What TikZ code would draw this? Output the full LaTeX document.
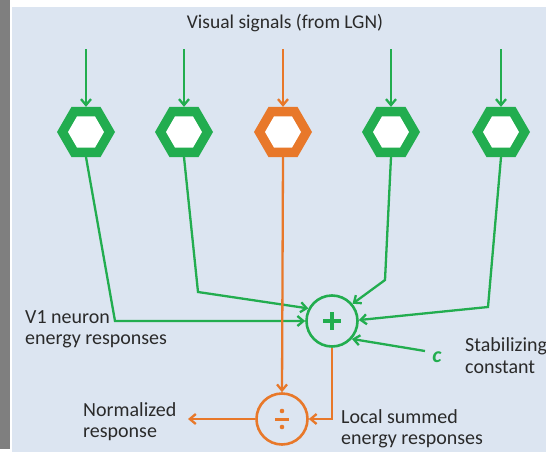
\documentclass[tikz,border=0pt]{standalone}
\usepackage{fontspec}
\setmainfont{Carlito}
\usetikzlibrary{shapes.geometric,arrows.meta}
\definecolor{bgblue}{HTML}{DCE5F1}
\definecolor{stripgray}{HTML}{7F7F7F}
\definecolor{lgreen}{HTML}{22AD4F}
\definecolor{lorange}{HTML}{E8782A}
\definecolor{txt}{HTML}{2A2A2A}
\begin{document}
\begin{tikzpicture}[x=1pt,y=-1pt,
  hexo/.style={regular polygon,regular polygon sides=6,minimum size=58pt,inner sep=0pt,outer sep=0pt},
  hexi/.style={regular polygon,regular polygon sides=6,minimum size=36pt,inner sep=0pt,outer sep=0pt,fill=white},
  opcirc/.style={circle,minimum size=51pt,inner sep=0pt,line width=2.6pt},
  conn/.style={line width=2.3pt,-{Straight Barb[length=6pt,width=10pt]}},
  lbl/.style={text=txt,font=\fontsize{20}{22}\selectfont,inner sep=0pt,anchor=base west},
  ttl/.style={text=txt,font=\fontsize{19.5}{22}\selectfont,inner sep=0pt,anchor=base},
  cst/.style={text=lgreen,font=\fontsize{22}{22}\selectfont\bfseries\itshape,inner sep=0pt},
]
\useasboundingbox (0,0) rectangle (546,455);
\clip (0,0) rectangle (546,455);
% background
\fill[white] (0,0) rectangle (546,455);
\fill[stripgray] (0,0) rectangle (10,449);
\fill[bgblue] (12,7) rectangle (546,452);

% title
\node[ttl] (title) at (285,28) {Visual signals (from LGN)};

% hexagons
\node[hexo,fill=lgreen] (h1) at (86,132) {};
\node[hexi] (h1i) at (86,132) {};
\node[hexo,fill=lgreen] (h2) at (184,132) {};
\node[hexi] (h2i) at (184,132) {};
\node[hexo,fill=lorange] (h3) at (283,132) {};
\node[hexi] (h3i) at (283,132) {};
\node[hexo,fill=lgreen] (h4) at (391,132) {};
\node[hexi] (h4i) at (391,132) {};
\node[hexo,fill=lgreen] (h5) at (501,132) {};
\node[hexi] (h5i) at (501,132) {};

% input arrows
\coordinate (s1) at (86,49);
\coordinate (s2) at (184,49);
\coordinate (s3) at (283,49);
\coordinate (s4) at (391,49);
\coordinate (s5) at (501,49);
\draw[conn,lgreen] (s1) -- (h1.north);
\draw[conn,lgreen] (s2) -- (h2.north);
\draw[conn,lorange] (s3) -- (h3.north);
\draw[conn,lgreen] (s4) -- (h4.north);
\draw[conn,lgreen] (s5) -- (h5.north);

% operator circles
\node[opcirc,draw=lgreen] (plus) at (332,321) {};
\draw[lgreen,line width=4.2pt] (plus.center) ++(-9,0) -- ++(18,0);
\draw[lgreen,line width=4.2pt] (plus.center) ++(0,-9) -- ++(0,18);

\node[opcirc,draw=lorange] (div) at (282,419) {};
\draw[lorange,line width=3pt] (div.center) ++(-7,0) -- ++(14,0);
\fill[lorange] (div.center) ++(0,-8) circle (2.3);
\fill[lorange] (div.center) ++(0,8) circle (2.3);

% green connectors into the sum
\coordinate (b1) at (115,321);
\coordinate (b2) at (198,292);
\coordinate (b4) at (385,280);
\coordinate (b5) at (488,307);
\coordinate (cs) at (425,351);
\draw[conn,lgreen] (h1.south) -- (b1) -- (plus.180);
\draw[conn,lgreen] (h2.south) -- (b2) -- (plus.152);
\draw[conn,lgreen] (h4.south) -- (b4) -- (plus.40);
\draw[conn,lgreen] (h5.south) -- (b5) -- (plus.2);
\draw[conn,lgreen] (cs) -- (plus.-42);

% orange connectors
\draw[conn,lorange] (h3.south) -- (div.north);
\draw[conn,lorange] (plus.south) |- (div.east);
\coordinate (outp) at (188,419);
\draw[conn,lorange] (div.west) -- (outp);

% labels
\node[lbl] (v1a) at (25,323) {V1 neuron};
\node[lbl] (v1b) at (25,344) {energy responses};
\node[lbl] (nr1) at (83,416) {Normalized};
\node[lbl] (nr2) at (83,437) {response};
\node[lbl] (ls1) at (341,423) {Local summed};
\node[lbl] (ls2) at (341,444) {energy responses};
\node[lbl] (st1) at (465,351) {Stabilizing};
\node[lbl] (st2) at (465,373) {constant};
\node[cst] (c) at (437,357.5) {c};
\end{tikzpicture}
\end{document}
